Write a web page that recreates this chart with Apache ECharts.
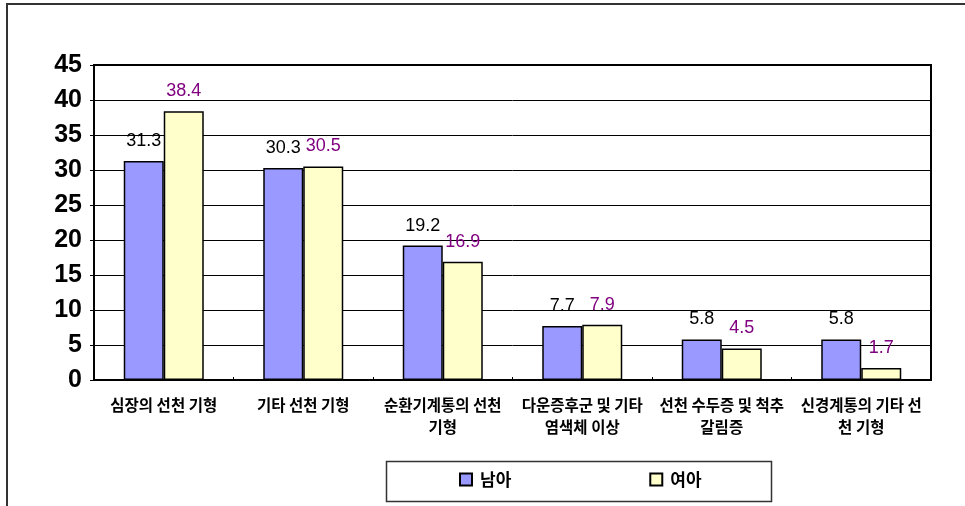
<!DOCTYPE html>
<html>
<head>
<meta charset="utf-8">
<script src="https://cdn.jsdelivr.net/npm/echarts@6/dist/echarts.min.js"></script>
<style>
html,body{margin:0;padding:0;background:#fff;}
#chart{width:965px;height:506px;}
</style>
</head>
<body>
<div id="chart"></div>
<script>
var categories = ['심장의 선천 기형', '기타 선천 기형', '순환기계통의 선천\n기형', '다운증후군 및 기타\n염색체 이상', '선천 수두증 및 척추\n갈림증', '신경계통의 기타 선\n천 기형'];
var boys = [31.3, 30.3, 19.2, 7.7, 5.8, 5.8];
var girls = [38.4, 30.5, 16.9, 7.9, 4.5, 1.7];
var seriesNames = ['남아', '여아'];
var yTicks = [0, 5, 10, 15, 20, 25, 30, 35, 40, 45];

var numFont = '"Liberation Sans", Arial, sans-serif';
var korFont = '"Noto Sans CJK KR", sans-serif';

var chart = echarts.init(document.getElementById('chart'), null, {renderer: 'canvas'});
chart.setOption({
  backgroundColor: '#ffffff',
  animation: false,
  grid: {
    left: 94, right: 34, top: 65, bottom: 126,
    show: true, borderColor: '#000', borderWidth: 2, backgroundColor: '#fff'
  },
  legend: {
    left: 459, top: 471,
    padding: 0,
    itemWidth: 12, itemHeight: 12,
    itemGap: 138,
    icon: 'rect',
    data: seriesNames,
    textStyle: {fontFamily: korFont, fontSize: 17, fontWeight: 'bold', color: '#000', padding: [0, 0, 0, 3]}
  },
  xAxis: {
    type: 'category',
    data: categories,
    axisLine: {lineStyle: {color: '#000', width: 2}},
    axisTick: {show: true, inside: true, length: 3, lineStyle: {color: '#000', width: 1}},
    axisLabel: {
      interval: 0, margin: 14, lineHeight: 22,
      fontFamily: korFont, fontSize: 15.5, fontWeight: 'bold', color: '#000'
    }
  },
  yAxis: {
    type: 'value',
    min: yTicks[0], max: yTicks[yTicks.length - 1], interval: 5,
    axisLine: {show: true, lineStyle: {color: '#000', width: 2}},
    axisTick: {show: true, length: 4, lineStyle: {color: '#000', width: 1}},
    splitLine: {lineStyle: {color: '#000', width: 1}},
    axisLabel: {margin: 12, fontFamily: numFont, fontSize: 25, fontWeight: 'bold', color: '#000'}
  },
  series: [
    {
      name: seriesNames[0], type: 'bar', data: boys,
      barWidth: 40, barGap: '0%',
      itemStyle: {color: '#9999ff', borderColor: '#000', borderWidth: 1.5},
      label: {show: true, position: 'top', distance: 11, fontFamily: numFont, fontSize: 18, color: '#000'}
    },
    {
      name: seriesNames[1], type: 'bar', data: girls,
      barWidth: 40, barGap: '0%',
      itemStyle: {color: '#ffffcc', borderColor: '#000', borderWidth: 1.5},
      label: {show: true, position: 'top', distance: 11, fontFamily: numFont, fontSize: 18, color: '#800080'}
    }
  ],
  graphic: [
    {type: 'polyline', shape: {points: [[7, 506], [7, 4], [965, 4]]}, style: {stroke: '#333', lineWidth: 2, fill: null}, silent: true},
    {type: 'rect', shape: {x: 386.5, y: 461.5, width: 385, height: 40}, style: {stroke: '#333', lineWidth: 1.5, fill: null}, silent: true, z: -1}
  ]
});
</script>
</body>
</html>
